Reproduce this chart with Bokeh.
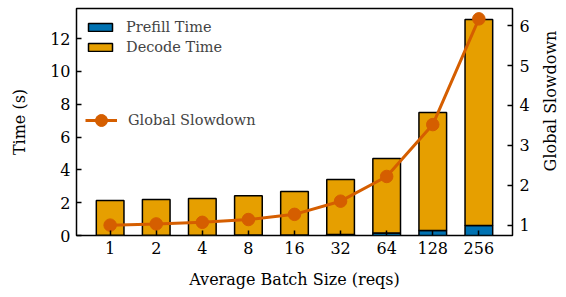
import math
from bokeh.plotting import figure
from bokeh.layouts import row
from bokeh.models import Range1d, LinearAxis, FactorRange, Legend, LegendItem, FixedTicker
from bokeh.core.properties import value
from bokeh.embed import file_html
from bokeh.resources import INLINE

batch = ["1", "2", "4", "8", "16", "32", "64", "128", "256"]
prefill = [0.02, 0.02, 0.02, 0.03, 0.03, 0.06, 0.16, 0.30, 0.61]
decode = [2.11, 2.18, 2.23, 2.40, 2.65, 3.35, 4.54, 7.20, 12.56]
slowdown = [1.00, 1.03, 1.07, 1.14, 1.27, 1.60, 2.22, 3.52, 6.17]
right_label = ["Global Slowdown"]

FONT = "DejaVu Serif"
BLUE = "#0072B2"
ORANGE = "#E69F00"
RED = "#D55E00"

data = dict(batch=batch, prefill=prefill, decode=decode, slowdown=slowdown)

p = figure(width=536, height=297,
           x_range=FactorRange(*batch, range_padding=0.23, range_padding_units="absolute", factor_padding=0),
           y_range=Range1d(0, 13.84), output_backend="svg", toolbar_location=None,
           min_border_left=76, min_border_right=24, min_border_top=8, min_border_bottom=62)
p.extra_y_ranges = {"sd": Range1d(0.74, 6.43)}

r = p.vbar_stack(["prefill", "decode"], x="batch", width=0.6, source=data,
                 fill_color=[BLUE, ORANGE], line_color="black", line_width=1.5)
ln = p.line(x="batch", y="slowdown", source=data, y_range_name="sd", line_color=RED, line_width=3)
sc = p.scatter(x="batch", y="slowdown", source=data, y_range_name="sd", size=12.5,
               fill_color=RED, line_color=RED)

right = LinearAxis(y_range_name="sd", ticker=FixedTicker(ticks=[1, 2, 3, 4, 5, 6]))
p.add_layout(right, "right")

p.yaxis[0].ticker = FixedTicker(ticks=[0, 2, 4, 6, 8, 10, 12])
p.yaxis[0].axis_label = "Time (s)"
p.xaxis.axis_label = "Average Batch Size (reqs)"

for ax in p.axis:
    ax.axis_label_text_font = FONT
    ax.axis_label_text_font_size = "16px"
    ax.axis_label_text_font_style = "normal"
    ax.axis_label_text_color = "black"
    ax.major_label_text_font = FONT
    ax.major_label_text_font_size = "16px"
    ax.major_label_text_color = "black"
    ax.axis_line_color = None
    ax.major_tick_in = 5
    ax.major_tick_out = 0
    ax.major_tick_line_color = "black"
    ax.major_tick_line_width = 1.5
    ax.minor_tick_line_color = None
    ax.major_label_standoff = 6

p.yaxis[0].axis_label_standoff = 18
p.xaxis[0].axis_label_standoff = 13
right.major_label_standoff = 7

p.xgrid.grid_line_color = None
p.ygrid.grid_line_color = None
p.outline_line_color = "black"
p.outline_line_width = 1.5
p.outline_line_alpha = 1

leg1 = Legend(items=[LegendItem(label="Prefill Time", renderers=[r[0]]),
                     LegendItem(label="Decode Time", renderers=[r[1]])],
              location=(9, 180), glyph_width=30, glyph_height=10, label_height=10,
              spacing=4, padding=0, margin=0, label_standoff=11,
              border_line_color=None, background_fill_alpha=0,
              label_text_font=FONT, label_text_font_size="14.5px")
leg2 = Legend(items=[LegendItem(label="Global Slowdown", renderers=[ln, sc])],
              location=(9, 100), glyph_width=32, glyph_height=30, label_height=30,
              padding=0, margin=0, label_standoff=11,
              border_line_color=None, background_fill_alpha=0,
              label_text_font=FONT, label_text_font_size="14.5px")
p.add_layout(leg1)
p.add_layout(leg2)

# narrow side strip carrying the right-hand axis title (reads bottom-to-top)
p2 = figure(width=30, height=297, x_range=Range1d(0, 30), y_range=Range1d(0, 297),
            output_backend="svg", toolbar_location=None,
            x_axis_location=None, y_axis_location=None, min_border=0)
p2.outline_line_color = None
p2.xgrid.grid_line_color = None
p2.ygrid.grid_line_color = None
p2.text(x=[14], y=[176], text=right_label, angle=math.pi / 2,
        text_align="center", text_baseline="middle",
        text_font=value(FONT), text_font_size="16px", text_color="black")

layout = row(p, p2, spacing=0)
open("out.html", "w").write(file_html(layout, INLINE))
